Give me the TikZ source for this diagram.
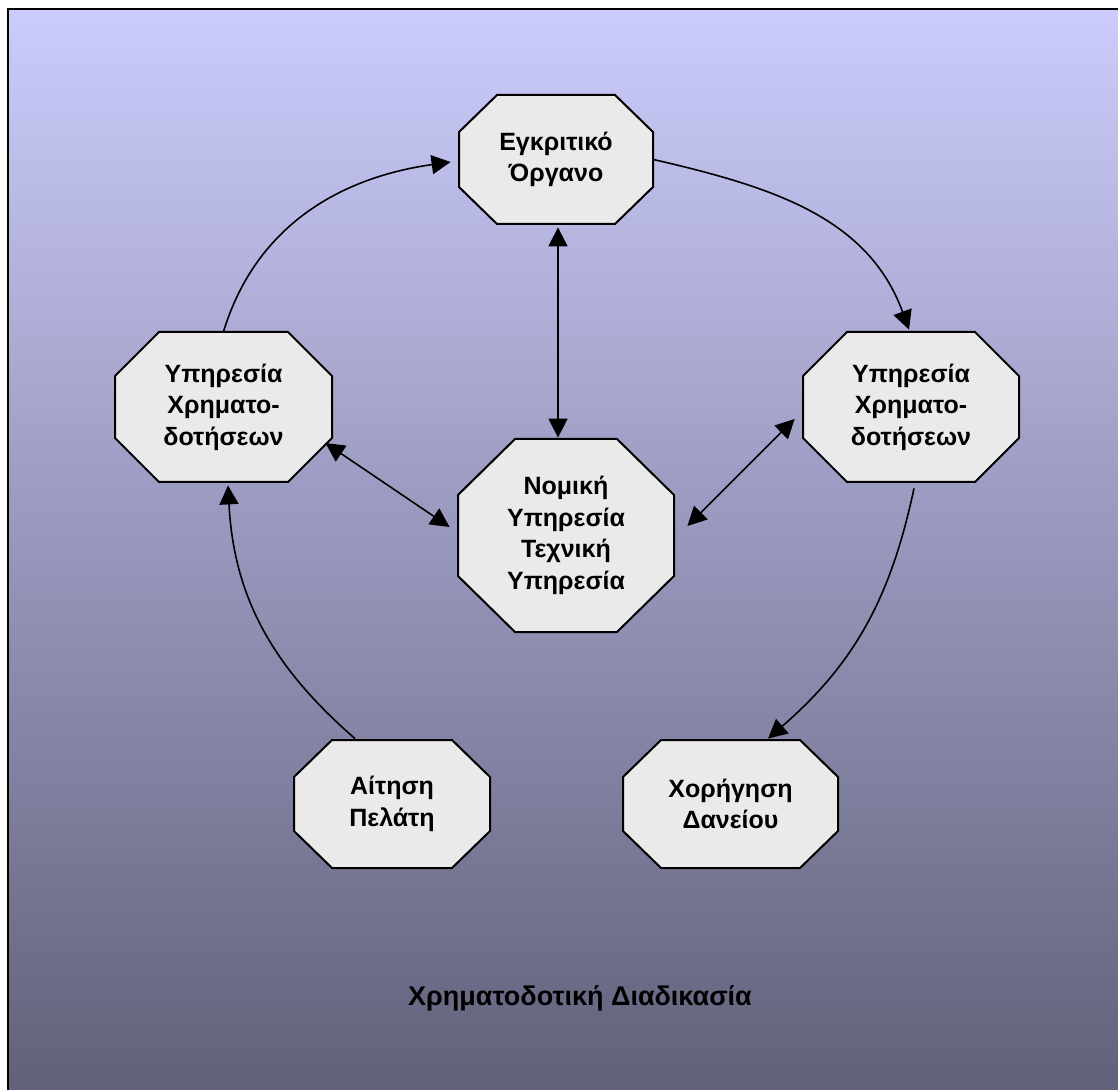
\documentclass[tikz,border=0pt]{standalone}
\usepackage{fontspec}
\setmainfont{Liberation Sans}
\usetikzlibrary{arrows.meta}

\definecolor{bgtop}{RGB}{204,204,252}
\definecolor{bgmid}{RGB}{160,160,205}
\definecolor{bgbot}{RGB}{95,95,120}
\definecolor{boxfill}{RGB}{234,234,234}

\tikzset{
  octo/.style={draw=black, line width=1pt, fill=boxfill, line join=miter},
  octlabel/.style={shape=rectangle, inner sep=0pt, align=center,
    font=\fontsize{12.5}{15.8}\selectfont\bfseries},
  link/.style={line width=0.8pt, -{Triangle[length=9.5pt,width=9.5pt]}},
  bilink/.style={line width=0.8pt, {Triangle[length=9.5pt,width=9.5pt]}-{Triangle[length=9.5pt,width=9.5pt]}},
  caption/.style={font=\fontsize{13.5}{16}\selectfont\bfseries}
}

% chamfered box: name, centre x, centre y, half width, half height,
% chamfer across, chamfer down, text
\newcommand\chambox[8]{%
  \path[octo] ({#2-#4},{#3-#5+#7}) -- ({#2-#4+#6},{#3-#5}) -- ({#2+#4-#6},{#3-#5})
    -- ({#2+#4},{#3-#5+#7}) -- ({#2+#4},{#3+#5-#7}) -- ({#2+#4-#6},{#3+#5})
    -- ({#2-#4+#6},{#3+#5}) -- ({#2-#4},{#3+#5-#7}) -- cycle;
  \node[octlabel, minimum width={#4 pt}, minimum height={#5 pt}] (#1) at (#2,#3) {#8};
}

\begin{document}
\begin{tikzpicture}[x=0.5pt, y=-0.5pt]
  \useasboundingbox (0,0) rectangle (1118,1090);
  \clip (0,0) rectangle (1118,1090);
  \fill[white] (0,0) rectangle (1118,1090);

  % framed, shaded background
  \shade[top color=bgtop, middle color=bgmid, bottom color=bgbot]
    (8,9) rectangle (1140,1110);
  \draw[line width=1.3pt] (8,9) rectangle (1140,1110);

  % boxes
  \chambox{egk}{556}{159.5}{97}{64.5}{38}{37}{Εγκριτικό\\Όργανο}
  \chambox{ypA}{223.5}{407}{108.5}{75}{44}{44}{Υπηρεσία\\Χρηματο-\\δοτήσεων}
  \chambox{nom}{566}{535.5}{108}{96.5}{57}{56}{Νομική\\Υπηρεσία\\Τεχνική\\Υπηρεσία}
  \chambox{ypB}{911}{407}{108}{75}{44}{44}{Υπηρεσία\\Χρηματο-\\δοτήσεων}
  \chambox{ait}{392}{804}{98}{64}{38}{37}{Αίτηση\\Πελάτη}
  \chambox{xor}{730.5}{804}{107.5}{64}{38}{37}{Χορήγηση\\Δανείου}

  % connectors
  \draw[link] (ypA.north) to[out=73, in=188] ([shift={(-8,2.5)}]egk.west);
  \draw[link] (egk.east) to[out=-13, in=110] ([shift={(-2,-2)}]ypB.north);
  \draw[bilink] ([shift={(2,3)}]egk.south) -- ([shift={(-8,-1)}]nom.north);
  \draw[bilink] ([shift={(-7,36)}]ypA.east) -- ([shift={(-8,-8.5)}]nom.west);
  \draw[bilink] ([shift={(13,-9.5)}]nom.east) -- ([shift={(-8,12)}]ypB.west);
  \draw[link] ([shift={(3,6)}]ypB.south) to[out=-102, in=41] ([shift={(37.5,-1)}]xor.north);
  \draw[link] ([shift={(-37,-1)}]ait.north) to[out=139, in=-87] ([shift={(4.5,3)}]ypA.south);

  % caption
  \node[caption] (title) at (580,998) {Χρηματοδοτική Διαδικασία};
\end{tikzpicture}
\end{document}
